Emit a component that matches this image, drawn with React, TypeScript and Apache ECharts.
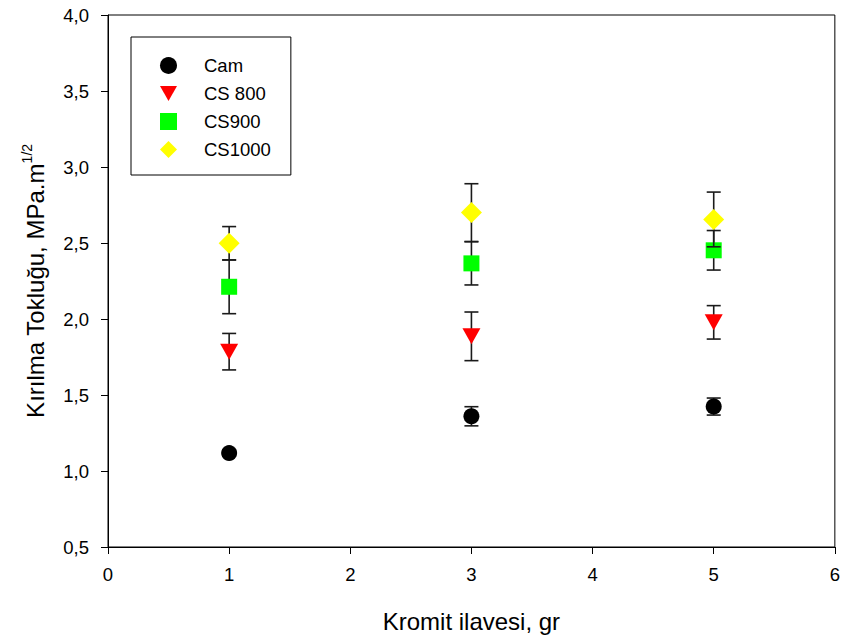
import React, { useEffect, useRef } from "react";
import * as echarts from "echarts";

const xValues = [1, 3, 5];
const camMean = [1.118, 1.36, 1.424];
const camErr = [0.02, 0.063, 0.056];
const cs800Mean = [1.785, 1.886, 1.978];
const cs800Err = [0.12, 0.16, 0.11];
const cs900Mean = [2.212, 2.366, 2.452];
const cs900Err = [0.177, 0.142, 0.13];
const cs1000Mean = [2.498, 2.7, 2.655];
const cs1000Err = [0.11, 0.19, 0.18];

const seriesDefs = [
  { name: "Cam", mean: camMean, err: camErr, color: "#000000", symbol: "circle", size: 16, rotate: 0, icon: "circle" },
  { name: "CS 800", mean: cs800Mean, err: cs800Err, color: "#ff0000", symbol: "triangle", size: [18, 16], rotate: 180, icon: "path://M0 0L18 0L9 16Z" },
  { name: "CS900", mean: cs900Mean, err: cs900Err, color: "#00ff00", symbol: "rect", size: 16, rotate: 0, icon: "rect" },
  { name: "CS1000", mean: cs1000Mean, err: cs1000Err, color: "#ffff00", symbol: "diamond", size: 21, rotate: 0, icon: "diamond" },
];

const FONT = "Liberation Sans, Arial, sans-serif";

export default function App() {
  const ref = useRef<HTMLDivElement>(null);
  useEffect(() => {
    if (!ref.current) return;
    const chart = echarts.init(ref.current, undefined, { renderer: "svg" });
    const series: any[] = [];
    seriesDefs.forEach((s, i) => {
      series.push({
        type: "custom",
        name: s.name + "-err",
        z: 2 + i * 2,
        silent: true,
        encode: { x: 0, y: [1, 2] },
        data: xValues.map((x, k) => [x, s.mean[k] - s.err[k], s.mean[k] + s.err[k]]),
        renderItem: (params: any, api: any) => {
          const x = api.value(0);
          const lo = api.coord([x, api.value(1)]);
          const hi = api.coord([x, api.value(2)]);
          const half = 7;
          const style = { stroke: "#1a1a1a", lineWidth: 1.6 };
          return {
            type: "group",
            children: [
              { type: "line", shape: { x1: lo[0], y1: lo[1], x2: hi[0], y2: hi[1] }, style },
              { type: "line", shape: { x1: lo[0] - half, y1: lo[1], x2: lo[0] + half, y2: lo[1] }, style },
              { type: "line", shape: { x1: hi[0] - half, y1: hi[1], x2: hi[0] + half, y2: hi[1] }, style },
            ],
          };
        },
      });
      series.push({
        type: "scatter",
        name: s.name,
        z: 3 + i * 2,
        symbol: s.symbol,
        symbolSize: s.size,
        symbolRotate: s.rotate,
        itemStyle: { color: s.color, opacity: 1 },
        data: xValues.map((x, k) => [x, s.mean[k]]),
      });
    });

    chart.setOption({
      animation: false,
      textStyle: { fontFamily: FONT },
      grid: {
        left: 108,
        right: 7,
        top: 15,
        bottom: 95,
        show: true,
        borderColor: "#000",
        borderWidth: 1,
      },
      legend: {
        data: seriesDefs.map((s) => ({ name: s.name, icon: s.icon, itemStyle: { color: s.color } })),
        orient: "vertical",
        left: 131,
        top: 37,
        padding: [19, 20, 16, 29],
        borderColor: "#000",
        borderWidth: 1,
        itemWidth: 17,
        itemHeight: 17,
        itemGap: 9,
        selectedMode: false,
        textStyle: {
          fontSize: 18.5,
          color: "#000",
          fontFamily: FONT,
          padding: [0, 0, 0, 22],
          lineHeight: 19,
        },
      },
      xAxis: {
        type: "value",
        min: 0,
        max: 6,
        interval: 1,
        name: "Kromit ilavesi, gr",
        nameLocation: "middle",
        nameGap: 62,
        nameTextStyle: { fontSize: 24, color: "#000", fontFamily: FONT },
        axisLine: { show: true, lineStyle: { color: "#000", width: 1 } },
        axisTick: { show: true, length: 7, lineStyle: { color: "#000" } },
        axisLabel: { fontSize: 18.5, color: "#000", margin: 18, fontFamily: FONT },
        splitLine: { show: false },
      },
      yAxis: {
        type: "value",
        min: 0.5,
        max: 4,
        interval: 0.5,
        name: "{a|Kırılma Tokluğu, MPa.m}{s|1/2}",
        nameLocation: "middle",
        nameGap: 58,
        nameRotate: 90,
        nameTextStyle: {
          color: "#000",
          fontFamily: FONT,
          rich: {
            a: { fontSize: 24, color: "#000", fontFamily: FONT, lineHeight: 30 },
            s: { fontSize: 14, color: "#000", fontFamily: FONT, verticalAlign: "top", lineHeight: 14 },
          },
        },
        axisLine: { show: true, lineStyle: { color: "#000", width: 1 } },
        axisTick: { show: true, length: 7, lineStyle: { color: "#000" } },
        axisLabel: {
          fontSize: 18.5,
          color: "#000",
          margin: 19,
          fontFamily: FONT,
          formatter: (v: number) => v.toFixed(1).replace(".", ","),
        },
        splitLine: { show: false },
      },
      series,
    });
    return () => chart.dispose();
  }, []);
  return (
    <div
      ref={ref}
      style={{ position: "fixed", left: 0, top: 0, width: 843, height: 642, background: "#fff" }}
    />
  );
}
